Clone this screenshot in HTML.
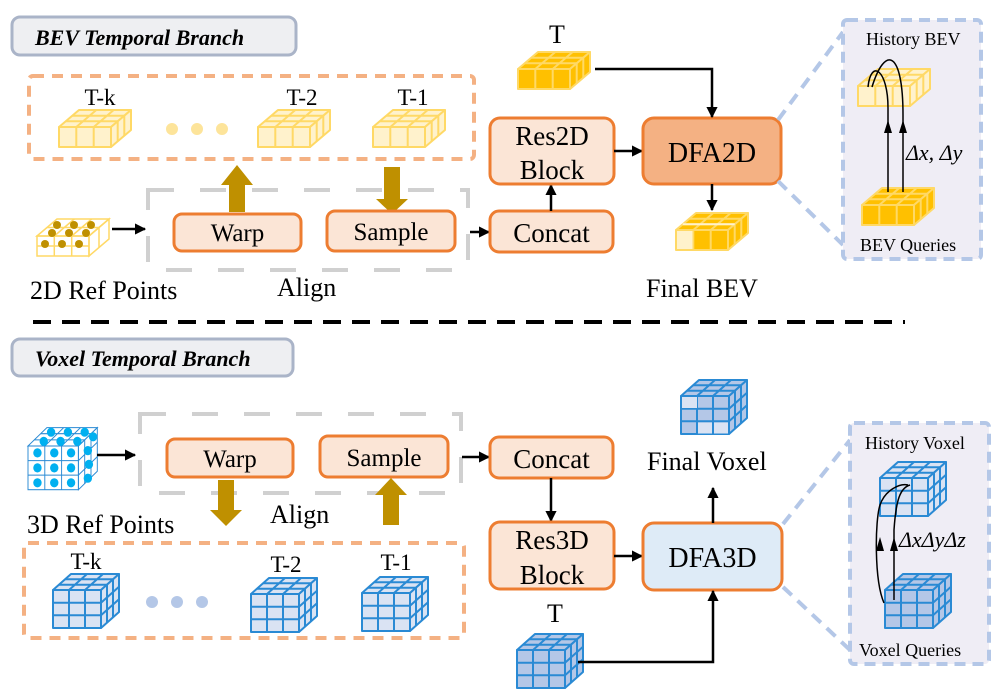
<!DOCTYPE html>
<html><head><meta charset="utf-8"><style>
html,body{margin:0;padding:0;background:#fff;}
svg{display:block;}
svg text{font-family:"Liberation Serif","DejaVu Serif",serif !important;}
</style></head><body>
<svg width="997" height="698" viewBox="0 0 997 698" xmlns="http://www.w3.org/2000/svg" xmlns:xlink="http://www.w3.org/1999/xlink" font-family="Liberation Serif, serif">
<defs>
<marker id="ah" viewBox="0 0 10 10" refX="9" refY="5" markerWidth="4.5" markerHeight="4.5" orient="auto" markerUnits="strokeWidth"><path d="M0,0 L10,5 L0,10 z" fill="#000"/></marker>
<g id="bevL" stroke="#ffd966" stroke-width="2" fill="#fff2cc" stroke-linejoin="round">
 <polygon points="0,0 20,-17 72,-17 52,0"/>
 <polygon points="52,0 72,-17 72,3 52,20"/>
 <rect x="0" y="0" width="52" height="20"/>
 <path d="M17.3,0 L37.3,-17 M34.7,0 L54.7,-17 M6.7,-5.7 L58.7,-5.7 M13.3,-11.3 L65.3,-11.3 M58.7,-5.7 L58.7,14.3 M65.3,-11.3 L65.3,8.7 M17.3,0 V20 M34.7,0 V20" fill="none"/>
</g>
<g id="bevS" stroke="#ffd966" stroke-width="2" fill="#ffc000" stroke-linejoin="round">
 <polygon points="0,0 20,-17 72,-17 52,0"/>
 <polygon points="52,0 72,-17 72,3 52,20"/>
 <rect x="0" y="0" width="52" height="20"/>
 <path d="M17.3,0 L37.3,-17 M34.7,0 L54.7,-17 M6.7,-5.7 L58.7,-5.7 M13.3,-11.3 L65.3,-11.3 M58.7,-5.7 L58.7,14.3 M65.3,-11.3 L65.3,8.7 M17.3,0 V20 M34.7,0 V20" fill="none"/>
</g>
<g id="voxL" stroke="#2a8ad4" stroke-width="2" fill="#dae3f3" stroke-linejoin="round">
 <polygon points="0,0 18,-16 66,-16 48,0"/>
 <polygon points="48,0 66,-16 66,22 48,38"/>
 <rect x="0" y="0" width="48" height="38"/>
 <path d="M16,0 L34,-16 M32,0 L50,-16 M6,-5.3 L54,-5.3 M12,-10.7 L60,-10.7 M54,-5.3 V32.7 M60,-10.7 V27.3 M48,12.7 L66,-3.3 M48,25.3 L66,9.3 M16,0 V38 M32,0 V38 M0,12.7 H48 M0,25.3 H48" fill="none"/>
</g>
<g id="voxS" stroke="#2a8ad4" stroke-width="2" fill="#b4c7e7" stroke-linejoin="round">
 <polygon points="0,0 18,-16 66,-16 48,0"/>
 <polygon points="48,0 66,-16 66,22 48,38"/>
 <rect x="0" y="0" width="48" height="38"/>
 <path d="M16,0 L34,-16 M32,0 L50,-16 M6,-5.3 L54,-5.3 M12,-10.7 L60,-10.7 M54,-5.3 V32.7 M60,-10.7 V27.3 M48,12.7 L66,-3.3 M48,25.3 L66,9.3 M16,0 V38 M32,0 V38 M0,12.7 H48 M0,25.3 H48" fill="none"/>
</g>
</defs>

<!-- ===== TOP ===== -->
<rect x="12" y="17" width="284" height="38" rx="8" fill="#eeeff2" stroke="#aab4c8" stroke-width="3"/>
<text x="35" y="45" font-size="22" font-weight="bold" font-style="italic">BEV Temporal Branch</text>

<rect x="29" y="76" width="445" height="83" rx="4" fill="none" stroke="#f4b183" stroke-width="4" stroke-dasharray="11 8"/>
<text x="100" y="105" font-size="23" text-anchor="middle">T-k</text>
<text x="302" y="105" font-size="23" text-anchor="middle">T-2</text>
<text x="413" y="105" font-size="23" text-anchor="middle">T-1</text>
<use xlink:href="#bevL" transform="translate(59,127)"/>
<use xlink:href="#bevL" transform="translate(258,127)"/>
<use xlink:href="#bevL" transform="translate(373,127)"/>
<circle cx="172" cy="129" r="6" fill="#fde49a"/><circle cx="197" cy="129" r="6" fill="#fde49a"/><circle cx="222" cy="129" r="6" fill="#fde49a"/>

<rect x="148" y="190" width="320" height="80" fill="none" stroke="#d0d0d0" stroke-width="4" stroke-dasharray="26 26"/>
<polygon points="229,212 229,185 221,185 237,165 253,185 245,185 245,212" fill="#bf9000"/>
<polygon points="384,167 400,167 400,199 408,199 392,214 376,199 384,199" fill="#bf9000"/>
<rect x="174" y="214" width="127" height="37" rx="8" fill="#fbe5d6" stroke="#ed7d31" stroke-width="3"/>
<text x="237.5" y="241" font-size="25" text-anchor="middle">Warp</text>
<rect x="327" y="211" width="128" height="40" rx="8" fill="#fbe5d6" stroke="#ed7d31" stroke-width="3"/>
<text x="391" y="240" font-size="25" text-anchor="middle">Sample</text>

<g transform="translate(37,236)">
 <g stroke="#ffd966" stroke-width="1.5" fill="none"><polygon points="0,0 20,-17 72,-17 52,0"/><polygon points="52,0 72,-17 72,3 52,20"/><rect x="0" y="0" width="52" height="20"/><path d="M17.3,0 L37.3,-17 M34.7,0 L54.7,-17 M10,-8.5 L62,-8.5 M62,-8.5 V11.5 M17.3,0 V20 M34.7,0 V20 M0,10 H52"/></g>
 <g fill="#bf9000"><circle cx="20" cy="-11" r="4"/><circle cx="37" cy="-11" r="4"/><circle cx="54" cy="-11" r="4"/><circle cx="15" cy="-3" r="4"/><circle cx="32" cy="-3" r="4"/><circle cx="49" cy="-3" r="4"/><circle cx="8" cy="8" r="4"/><circle cx="25" cy="8" r="4"/><circle cx="42" cy="8" r="4"/></g>
</g>
<line x1="112" y1="229" x2="145" y2="229" stroke="#000" stroke-width="2.5" marker-end="url(#ah)"/>
<text x="30" y="299" font-size="26">2D Ref Points</text>
<text x="277" y="296" font-size="26">Align</text>

<line x1="470" y1="232" x2="489" y2="232" stroke="#000" stroke-width="2.5" marker-end="url(#ah)"/>
<rect x="490" y="211" width="123" height="41" rx="9" fill="#fbe5d6" stroke="#ed7d31" stroke-width="3"/>
<text x="551.5" y="242" font-size="27" text-anchor="middle">Concat</text>
<line x1="551" y1="211" x2="551" y2="185" stroke="#000" stroke-width="2.5" marker-end="url(#ah)"/>
<rect x="490" y="118" width="124" height="66" rx="10" fill="#fbe5d6" stroke="#ed7d31" stroke-width="3"/>
<text x="552" y="145" font-size="27" text-anchor="middle">Res2D</text>
<text x="552" y="179" font-size="27" text-anchor="middle">Block</text>
<line x1="614" y1="151" x2="642" y2="151" stroke="#000" stroke-width="2.5" marker-end="url(#ah)"/>
<rect x="643" y="118" width="138" height="66" rx="11" fill="#f4b183" stroke="#ed7d31" stroke-width="3"/>
<text x="712" y="162" font-size="28" text-anchor="middle">DFA2D</text>

<text x="557" y="43" font-size="26" text-anchor="middle">T</text>
<use xlink:href="#bevS" transform="translate(518,69)"/>
<polyline points="595,69 712,69 712,117" fill="none" stroke="#000" stroke-width="2.5" marker-end="url(#ah)"/>
<line x1="712" y1="184" x2="712" y2="210" stroke="#000" stroke-width="2.5" marker-end="url(#ah)"/>
<g transform="translate(676,230)">
 <use xlink:href="#bevS"/>
 <rect x="1" y="1" width="15.5" height="18" fill="#fff2cc"/>
 <path d="M6.7,-5.7 L58.7,-5.7" stroke="#fff2cc" stroke-width="2"/>
</g>
<text x="646" y="297" font-size="26">Final BEV</text>

<line x1="778" y1="120" x2="843" y2="32" stroke="#b4c7e7" stroke-width="4" stroke-dasharray="12 8"/>
<line x1="778" y1="181" x2="843" y2="245" stroke="#b4c7e7" stroke-width="4" stroke-dasharray="12 8"/>
<rect x="843" y="20" width="138" height="239" rx="4" fill="#efedf5" stroke="#b4c7e7" stroke-width="4" stroke-dasharray="11 7"/>
<text x="866" y="45" font-size="18">History BEV</text>
<use xlink:href="#bevL" transform="translate(858,86)"/>
<use xlink:href="#bevS" transform="translate(862,205)"/>
<path d="M888,192 L888,108 C888,70 871,58 868,87" fill="none" stroke="#000" stroke-width="1.5"/>
<path d="M903,192 L903,115 C903,50 885,45 872,87" fill="none" stroke="#000" stroke-width="1.5"/>
<polygon points="884,133 892,133 888,120" fill="#000"/>
<polygon points="899,133 907,133 903,120" fill="#000"/>
<text x="906" y="160" font-size="22" font-style="italic">Δx, Δy</text>
<text x="860" y="251" font-size="18">BEV Queries</text>

<line x1="33" y1="322" x2="905" y2="322" stroke="#000" stroke-width="4" stroke-dasharray="18 11"/>

<!-- ===== BOTTOM ===== -->
<rect x="12" y="339" width="281" height="37" rx="8" fill="#eeeff2" stroke="#aab4c8" stroke-width="3"/>
<text x="35" y="366" font-size="22" font-weight="bold" font-style="italic">Voxel Temporal Branch</text>

<g transform="translate(28,446) scale(1.05,1.15)">
 <g stroke="#2a8ad4" stroke-width="0.9" fill="none"><polygon points="0,0 18,-16 66,-16 48,0"/><polygon points="48,0 66,-16 66,22 48,38"/><rect x="0" y="0" width="48" height="38"/><path d="M16,0 L34,-16 M32,0 L50,-16 M6,-5.3 L54,-5.3 M12,-10.7 L60,-10.7 M54,-5.3 V32.7 M60,-10.7 V27.3 M48,12.7 L66,-3.3 M48,25.3 L66,9.3 M16,0 V38 M32,0 V38 M0,12.7 H48 M0,25.3 H48"/></g>
 <g fill="#00b0f0"><circle cx="22" cy="-12" r="4"/><circle cx="38" cy="-12" r="4"/><circle cx="54" cy="-12" r="4"/><circle cx="15" cy="-4" r="4"/><circle cx="31" cy="-4" r="4"/><circle cx="47" cy="-4" r="4"/><circle cx="62" cy="-8" r="4"/><circle cx="9" cy="6" r="4"/><circle cx="25" cy="6" r="4"/><circle cx="41" cy="6" r="4"/><circle cx="57" cy="4" r="4"/><circle cx="9" cy="19" r="4"/><circle cx="25" cy="19" r="4"/><circle cx="41" cy="19" r="4"/><circle cx="58" cy="16" r="4"/><circle cx="9" cy="32" r="4"/><circle cx="25" cy="32" r="4"/><circle cx="41" cy="32" r="4"/><circle cx="57" cy="28" r="4"/></g>
</g>
<line x1="97" y1="455" x2="135" y2="455" stroke="#000" stroke-width="2.5" marker-end="url(#ah)"/>
<rect x="140" y="414" width="321" height="79" fill="none" stroke="#d0d0d0" stroke-width="4" stroke-dasharray="26 26"/>
<rect x="167" y="439" width="126" height="38" rx="8" fill="#fbe5d6" stroke="#ed7d31" stroke-width="3"/>
<text x="230" y="467" font-size="25" text-anchor="middle">Warp</text>
<rect x="320" y="436" width="128" height="41" rx="8" fill="#fbe5d6" stroke="#ed7d31" stroke-width="3"/>
<text x="384" y="466" font-size="25" text-anchor="middle">Sample</text>
<polygon points="218,480 234,480 234,510 242,510 226,526 210,510 218,510" fill="#bf9000"/>
<polygon points="383,525 383,495 375,495 391,478 407,495 399,495 399,525" fill="#bf9000"/>
<text x="27" y="533" font-size="26">3D Ref Points</text>
<text x="270" y="523" font-size="26">Align</text>

<rect x="24" y="543" width="440" height="95" rx="4" fill="none" stroke="#f4b183" stroke-width="4" stroke-dasharray="11 8"/>
<text x="86" y="569" font-size="23" text-anchor="middle">T-k</text>
<text x="286" y="572" font-size="23" text-anchor="middle">T-2</text>
<text x="396" y="570" font-size="23" text-anchor="middle">T-1</text>
<use xlink:href="#voxL" transform="translate(53,590)"/>
<use xlink:href="#voxL" transform="translate(251,594)"/>
<use xlink:href="#voxL" transform="translate(362,593)"/>
<circle cx="152" cy="602" r="6" fill="#b4c7e7"/><circle cx="177" cy="602" r="6" fill="#b4c7e7"/><circle cx="202" cy="602" r="6" fill="#b4c7e7"/>

<line x1="462" y1="457" x2="489" y2="457" stroke="#000" stroke-width="2.5" marker-end="url(#ah)"/>
<rect x="490" y="437" width="123" height="41" rx="9" fill="#fbe5d6" stroke="#ed7d31" stroke-width="3"/>
<text x="551.5" y="468" font-size="27" text-anchor="middle">Concat</text>
<line x1="551" y1="478" x2="551" y2="521" stroke="#000" stroke-width="2.5" marker-end="url(#ah)"/>
<rect x="490" y="522" width="124" height="67" rx="10" fill="#fbe5d6" stroke="#ed7d31" stroke-width="3"/>
<text x="552" y="549" font-size="27" text-anchor="middle">Res3D</text>
<text x="552" y="584" font-size="27" text-anchor="middle">Block</text>
<line x1="614" y1="556" x2="642" y2="556" stroke="#000" stroke-width="2.5" marker-end="url(#ah)"/>
<rect x="643" y="523" width="139" height="67" rx="11" fill="#deebf7" stroke="#ed7d31" stroke-width="3"/>
<text x="712.5" y="567" font-size="28" text-anchor="middle">DFA3D</text>
<line x1="713" y1="523" x2="713" y2="488" stroke="#000" stroke-width="2.5" marker-end="url(#ah)"/>
<text x="647" y="470" font-size="26">Final Voxel</text>
<g transform="translate(681,396)">
 <use xlink:href="#voxS"/>
 <rect x="1" y="1" width="15" height="11" fill="#dae3f3"/>
 <rect x="17" y="26.5" width="14" height="11" fill="#dae3f3"/>
 <rect x="33" y="26.5" width="14" height="11" fill="#dae3f3"/>
</g>

<text x="555" y="622" font-size="26" text-anchor="middle">T</text>
<use xlink:href="#voxS" transform="translate(517,650)"/>
<polyline points="578,662 713,662 713,591" fill="none" stroke="#000" stroke-width="2.5" marker-end="url(#ah)"/>

<line x1="783" y1="524" x2="850" y2="440" stroke="#b4c7e7" stroke-width="4" stroke-dasharray="12 8"/>
<line x1="783" y1="587" x2="850" y2="650" stroke="#b4c7e7" stroke-width="4" stroke-dasharray="12 8"/>
<rect x="850" y="423" width="139" height="241" rx="4" fill="#efedf5" stroke="#b4c7e7" stroke-width="4" stroke-dasharray="11 7"/>
<text x="865" y="449" font-size="18">History Voxel</text>
<use xlink:href="#voxL" transform="translate(880,478)"/>
<use xlink:href="#voxS" transform="translate(885,590)"/>
<path d="M884,603 C874,580 875,520 880,505 C885,490 900,483 908,485" fill="none" stroke="#000" stroke-width="1.5"/>
<path d="M894,600 L894,530 C896,500 900,488 910,485" fill="none" stroke="#000" stroke-width="1.5"/>
<polygon points="876,551 884,551 880,537" fill="#000"/>
<polygon points="890,551 898,551 894,537" fill="#000"/>
<text x="899" y="547" font-size="22" font-style="italic">ΔxΔyΔz</text>
<text x="859" y="656" font-size="18">Voxel Queries</text>
</svg>
</body></html>
